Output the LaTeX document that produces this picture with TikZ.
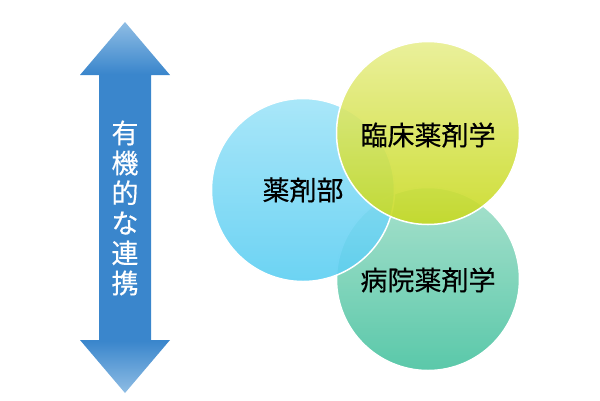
\documentclass[tikz,border=0pt]{standalone}
\usepackage{fontspec}
\newfontfamily\jp[FakeBold=0.4]{Noto Sans CJK JP}
\definecolor{arrdark}{HTML}{3A86CC}
\definecolor{arrlight}{HTML}{8FBDE4}
\pgfdeclareverticalshading{arrshade}{100bp}{color(0bp)=(arrlight); color(25bp)=(arrlight); color(32bp)=(arrdark); color(68bp)=(arrdark); color(75bp)=(arrlight); color(100bp)=(arrlight)}
\tikzset{
  bubble/.style={circle, draw=white, line width=1.5pt, minimum size=183pt, inner sep=0pt,
    fill opacity=0.9, text opacity=1},
  jptext/.style={font=\jp\fontsize{27}{30}\selectfont, text=black},
}
\begin{document}
\begin{tikzpicture}[x=1pt,y=-1pt]
\useasboundingbox (0,0) rectangle (600,400);
% arrow
\path[shading=arrshade] (125,22) -- (170,75) -- (151,75) -- (151,340) -- (170,340) -- (125,393)
  -- (80,340) -- (99,340) -- (99,75) -- (80,75) -- cycle;
\node[jptext, text=white, align=center, inner sep=0pt] (lbl) at (125,208)
  {有\\機\\的\\な\\連\\携};
% circles
\node[bubble, top color={rgb,255:red,160;green,222;blue,200}, bottom color={rgb,255:red,72;green,194;blue,160}] (hosp) at (428,279) {};
\node[bubble, top color={rgb,255:red,160;green,228;blue,248}, bottom color={rgb,255:red,92;green,206;blue,242}] (dept) at (303,190) {};
\node[bubble, top color={rgb,255:red,232;green,238;blue,144}, bottom color={rgb,255:red,200;green,218;blue,32}] (clin) at (428,133) {};
\node[jptext] (tdept) at (dept.center) {薬剤部};
\node[jptext] (tclin) at (428,135) {臨床薬剤学};
\node[jptext] (thosp) at (428,280) {病院薬剤学};
\end{tikzpicture}
\end{document}
